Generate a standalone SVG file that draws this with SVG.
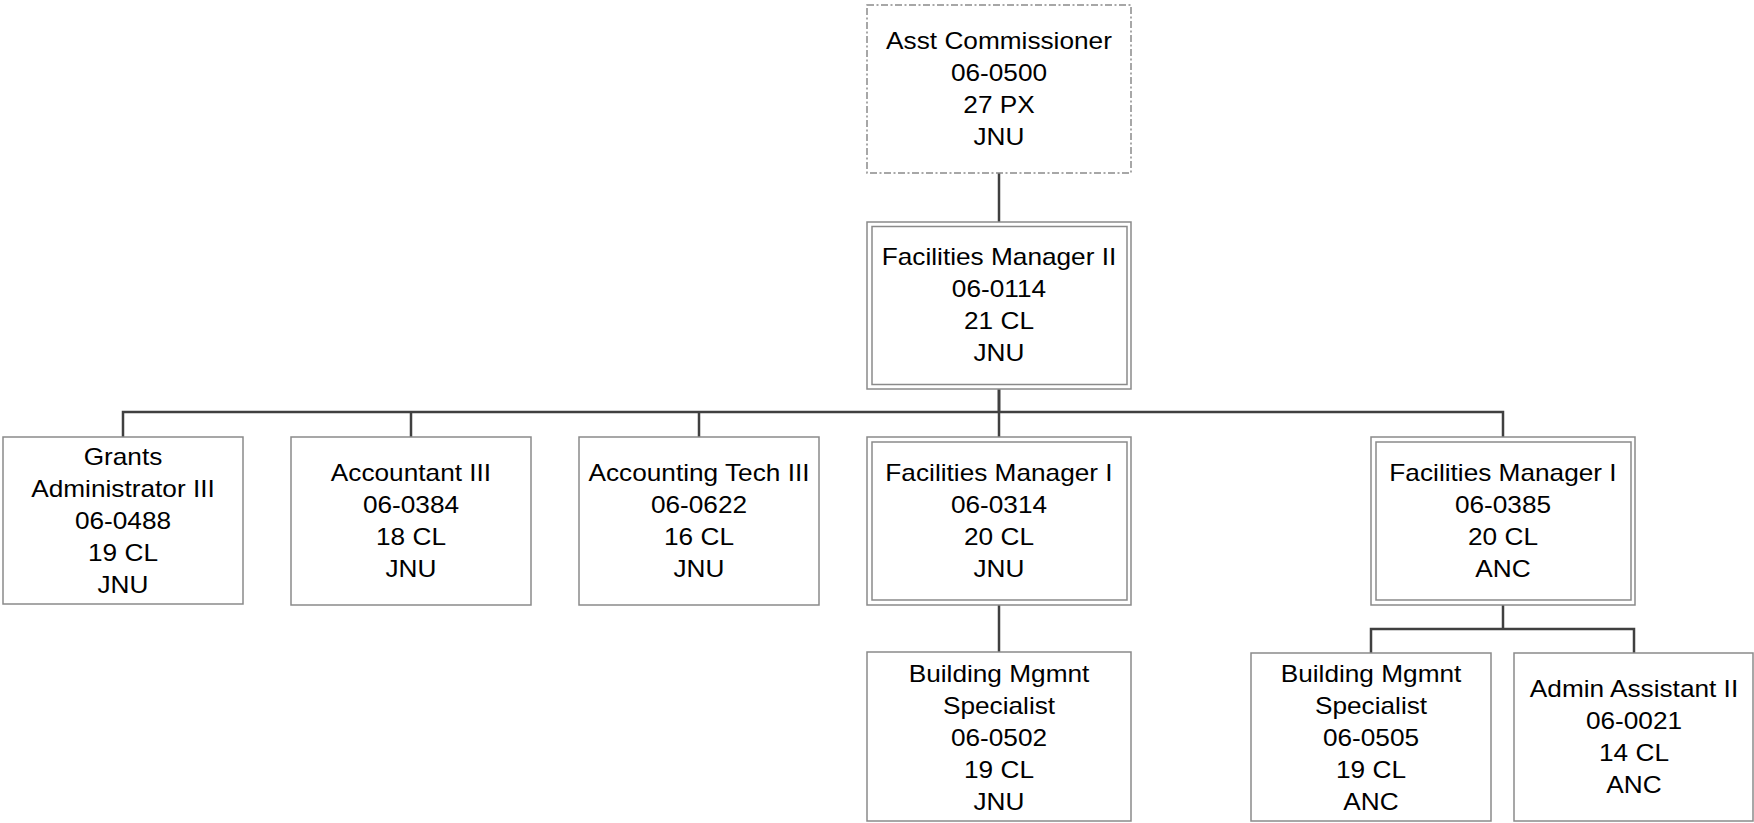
<svg xmlns="http://www.w3.org/2000/svg" width="1754" height="823" viewBox="0 0 1754 823">
<style>
.box{fill:#fff;stroke:#8a8a8a;stroke-width:1.5}
.dash{fill:#fff;stroke:#8a8a8a;stroke-width:1.5;stroke-dasharray:7 2.5 2 2.5}
.t{font-family:"Liberation Sans",Arial,sans-serif;font-size:23px;fill:#000;text-anchor:middle}
.c{fill:none;stroke:#404040;stroke-width:2.5}
</style>
<rect width="1754" height="823" fill="#fff"/>
<g id="connectors">
<path class="c" d="M999 173V222"/>
<path class="c" d="M999 389V412" style="stroke-width:3"/>
<path class="c" d="M123 437V412H1503V437"/>
<path class="c" d="M411 412V437M699 412V437M999 412V437"/>
<path class="c" d="M999 605V652"/>
<path class="c" d="M1503 605V629"/>
<path class="c" d="M1371 653V629H1634V653"/>
</g>
<g id="n-asst-commissioner">
<rect class="dash" x="867" y="5" width="264" height="168"/>
<text class="t" transform="translate(999,0) scale(1.14,1)"><tspan x="0" y="49">Asst Commissioner</tspan><tspan x="0" y="81">06-0500</tspan><tspan x="0" y="113">27 PX</tspan><tspan x="0" y="145">JNU</tspan></text>
</g>
<g id="n-fm2">
<rect class="box" x="867" y="222" width="264" height="167"/>
<rect class="box" x="872" y="226.5" width="255" height="158"/>
<text class="t" transform="translate(999,0) scale(1.14,1)"><tspan x="0" y="265">Facilities Manager II</tspan><tspan x="0" y="297">06-0114</tspan><tspan x="0" y="329">21 CL</tspan><tspan x="0" y="361">JNU</tspan></text>
</g>
<g id="n-grants">
<rect class="box" x="3" y="437" width="240" height="167"/>
<text class="t" transform="translate(123,0) scale(1.14,1)"><tspan x="0" y="465">Grants</tspan><tspan x="0" y="497">Administrator III</tspan><tspan x="0" y="529">06-0488</tspan><tspan x="0" y="561">19 CL</tspan><tspan x="0" y="593">JNU</tspan></text>
</g>
<g id="n-accountant">
<rect class="box" x="291" y="437" width="240" height="168"/>
<text class="t" transform="translate(411,0) scale(1.14,1)"><tspan x="0" y="481">Accountant III</tspan><tspan x="0" y="513">06-0384</tspan><tspan x="0" y="545">18 CL</tspan><tspan x="0" y="577">JNU</tspan></text>
</g>
<g id="n-acct-tech">
<rect class="box" x="579" y="437" width="240" height="168"/>
<text class="t" transform="translate(699,0) scale(1.14,1)"><tspan x="0" y="481">Accounting Tech III</tspan><tspan x="0" y="513">06-0622</tspan><tspan x="0" y="545">16 CL</tspan><tspan x="0" y="577">JNU</tspan></text>
</g>
<g id="n-fm1-jnu">
<rect class="box" x="867" y="437" width="264" height="168"/>
<rect class="box" x="872" y="442" width="255" height="158"/>
<text class="t" transform="translate(999,0) scale(1.14,1)"><tspan x="0" y="481">Facilities Manager I</tspan><tspan x="0" y="513">06-0314</tspan><tspan x="0" y="545">20 CL</tspan><tspan x="0" y="577">JNU</tspan></text>
</g>
<g id="n-fm1-anc">
<rect class="box" x="1371" y="437" width="264" height="168"/>
<rect class="box" x="1376" y="442" width="255" height="158"/>
<text class="t" transform="translate(1503,0) scale(1.14,1)"><tspan x="0" y="481">Facilities Manager I</tspan><tspan x="0" y="513">06-0385</tspan><tspan x="0" y="545">20 CL</tspan><tspan x="0" y="577">ANC</tspan></text>
</g>
<g id="n-bms-jnu">
<rect class="box" x="867" y="652" width="264" height="169"/>
<text class="t" transform="translate(999,0) scale(1.14,1)"><tspan x="0" y="682">Building Mgmnt</tspan><tspan x="0" y="714">Specialist</tspan><tspan x="0" y="746">06-0502</tspan><tspan x="0" y="778">19 CL</tspan><tspan x="0" y="810">JNU</tspan></text>
</g>
<g id="n-bms-anc">
<rect class="box" x="1251" y="653" width="240" height="168"/>
<text class="t" transform="translate(1371,0) scale(1.14,1)"><tspan x="0" y="682">Building Mgmnt</tspan><tspan x="0" y="714">Specialist</tspan><tspan x="0" y="746">06-0505</tspan><tspan x="0" y="778">19 CL</tspan><tspan x="0" y="810">ANC</tspan></text>
</g>
<g id="n-admin">
<rect class="box" x="1514" y="653" width="239" height="168"/>
<text class="t" transform="translate(1634,0) scale(1.14,1)"><tspan x="0" y="697">Admin Assistant II</tspan><tspan x="0" y="729">06-0021</tspan><tspan x="0" y="761">14 CL</tspan><tspan x="0" y="793">ANC</tspan></text>
</g>
</svg>
